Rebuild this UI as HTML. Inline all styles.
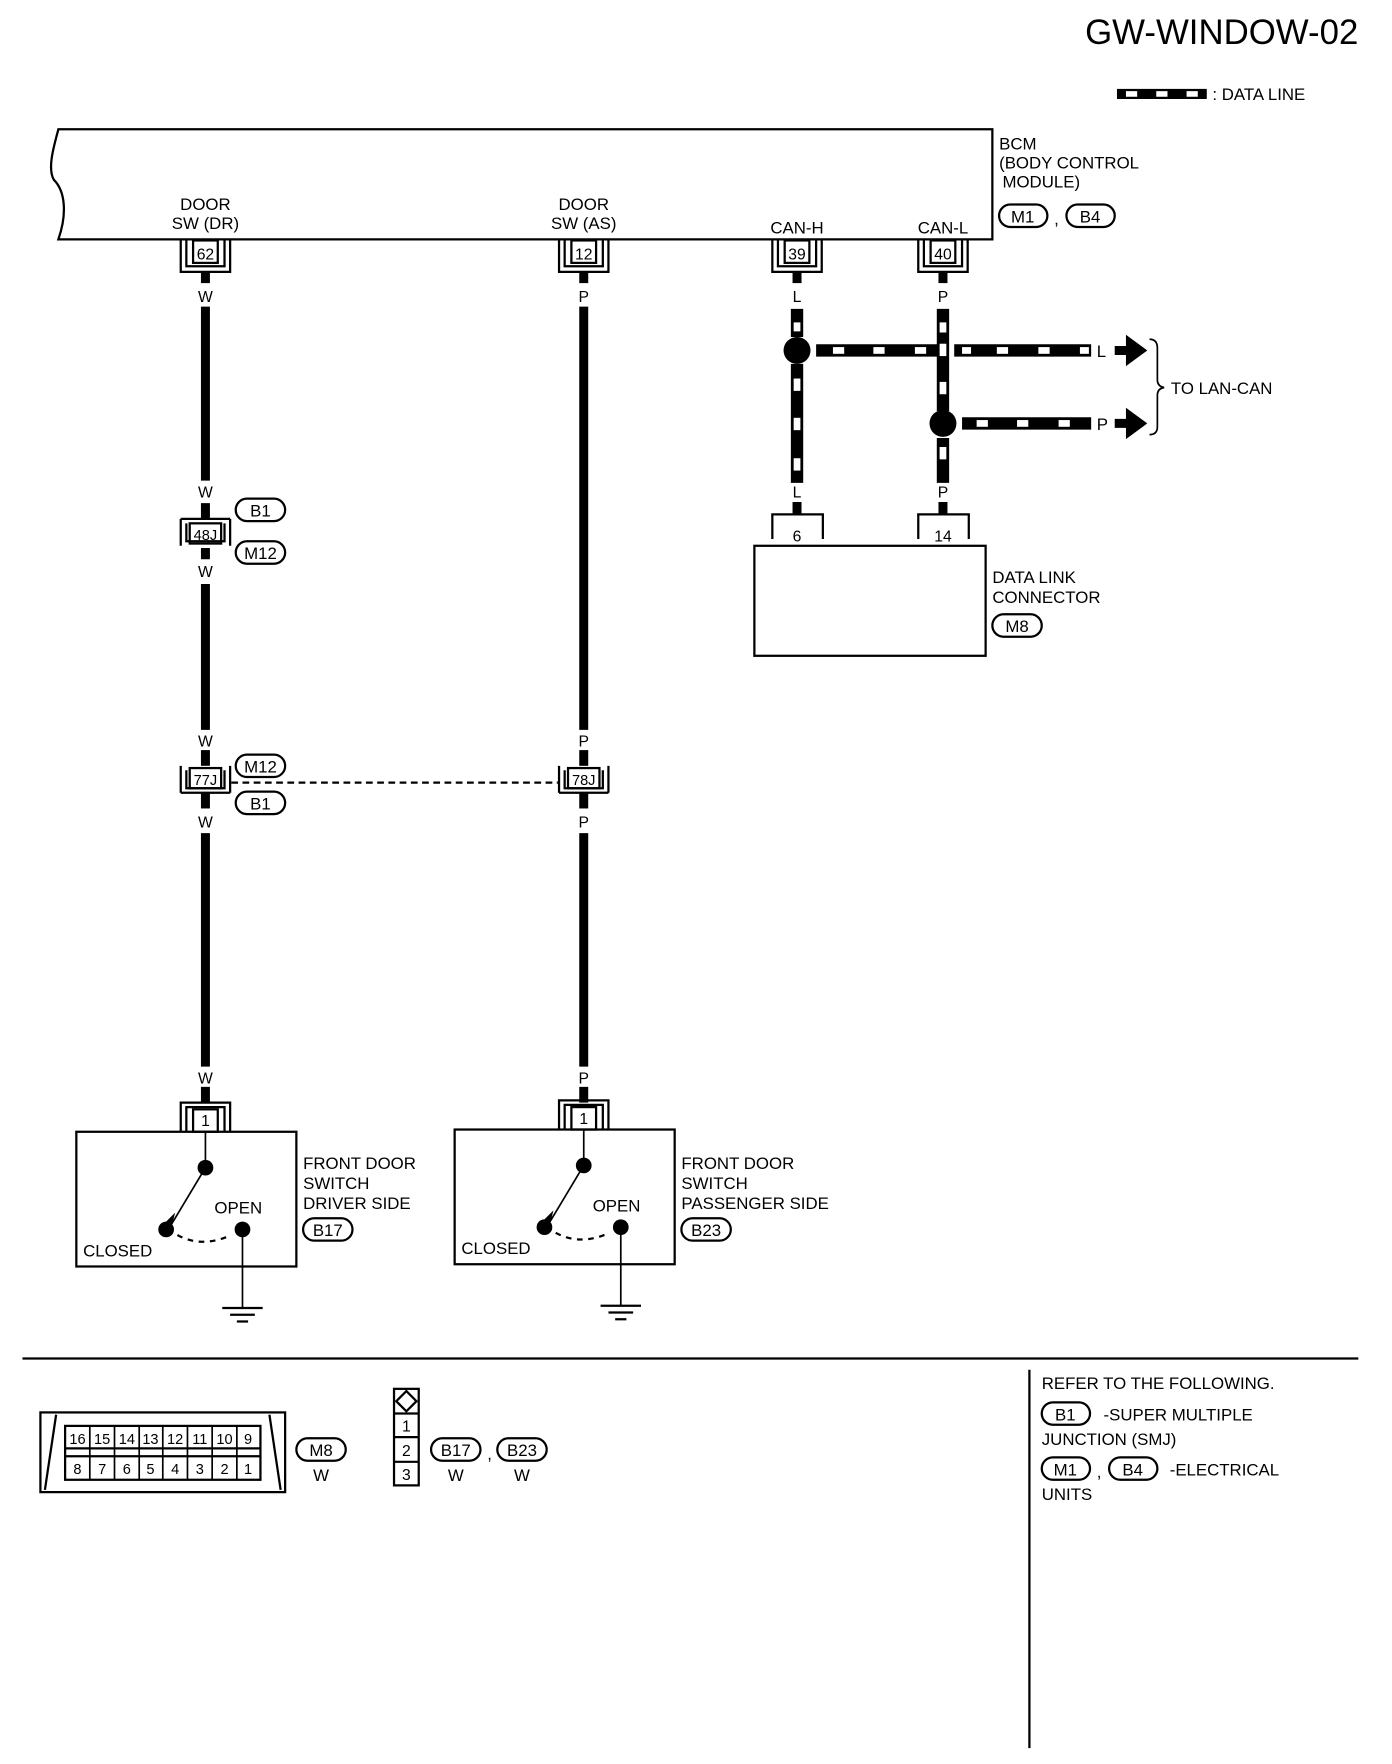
<!DOCTYPE html>
<html><head><meta charset="utf-8"><style>
html,body{margin:0;padding:0;background:#fff}
svg{display:block}
text{font-family:"Liberation Sans",sans-serif;fill:#000}
</style></head><body>
<svg width="1392" height="1764" viewBox="0 0 1240 1571" xmlns="http://www.w3.org/2000/svg">
<rect width="1240" height="1571" fill="#fff"/>
<g font-size="15">
<text x="1210" y="39" font-size="31" text-anchor="end">GW-WINDOW-02</text>
<!-- legend -->
<rect x="995" y="79" width="80" height="9" fill="#000"/>
<rect x="1003" y="81" width="10" height="5" fill="#fff"/><rect x="1030" y="81" width="10" height="5" fill="#fff"/><rect x="1057" y="81" width="10" height="5" fill="#fff"/>
<text x="1080" y="89">: DATA LINE</text>

<!-- BCM -->
<path d="M52 115 H884 V213 H52 C60 190 58 170 48 160 C42 150 48 130 52 115 Z" fill="none" stroke="#000" stroke-width="2"/>
<text x="890" y="133">BCM</text><text x="890" y="150">(BODY CONTROL</text><text x="893" y="167">MODULE)</text>
<rect x="890" y="182" width="43" height="20" rx="10" fill="none" stroke="#000" stroke-width="2"/><text x="911" y="198" text-anchor="middle">M1</text>
<text x="939" y="200">,</text>
<rect x="950" y="182" width="43" height="20" rx="10" fill="none" stroke="#000" stroke-width="2"/><text x="971" y="198" text-anchor="middle">B4</text>

<g text-anchor="middle">
<text x="183" y="187">DOOR</text><text x="183" y="204">SW (DR)</text>
<text x="520" y="187">DOOR</text><text x="520" y="204">SW (AS)</text>
<text x="710" y="208">CAN-H</text><text x="840" y="208">CAN-L</text>
</g>

<!-- top pin connectors -->
<g fill="none" stroke="#000" stroke-width="2">
<path d="M161 214 V242 H205 V214 M166 214 V237 H200 V214"/><rect x="172" y="214" width="22" height="20"/>
<path d="M498 214 V242 H542 V214 M503 214 V237 H537 V214"/><rect x="509" y="214" width="22" height="20"/>
<path d="M688 214 V242 H732 V214 M693 214 V237 H727 V214"/><rect x="699" y="214" width="22" height="20"/>
<path d="M818 214 V242 H862 V214 M823 214 V237 H857 V214"/><rect x="829" y="214" width="22" height="20"/>
</g>
<g font-size="14" text-anchor="middle">
<text x="183" y="231">62</text><text x="520" y="231">12</text><text x="710" y="231">39</text><text x="840" y="231">40</text>
</g>
<g stroke="#000" stroke-width="8">
<line x1="183" y1="242" x2="183" y2="252"/><line x1="520" y1="242" x2="520" y2="252"/>
<line x1="710" y1="242" x2="710" y2="252"/><line x1="840" y1="242" x2="840" y2="252"/>
<!-- W wire -->
<line x1="183" y1="273" x2="183" y2="428"/>
<line x1="183" y1="448" x2="183" y2="462"/>
<line x1="183" y1="488" x2="183" y2="498"/>
<line x1="183" y1="520" x2="183" y2="650"/>
<line x1="183" y1="668" x2="183" y2="682"/>
<line x1="183" y1="706" x2="183" y2="720"/>
<line x1="183" y1="742" x2="183" y2="950"/>
<line x1="183" y1="968" x2="183" y2="982"/>
<!-- P wire -->
<line x1="520" y1="273" x2="520" y2="650"/>
<line x1="520" y1="668" x2="520" y2="682"/>
<line x1="520" y1="706" x2="520" y2="720"/>
<line x1="520" y1="742" x2="520" y2="950"/>
<line x1="520" y1="968" x2="520" y2="982"/>
<!-- CAN stubs -->
<line x1="710" y1="447" x2="710" y2="458"/><line x1="840" y1="447" x2="840" y2="458"/>
</g>
<g text-anchor="middle" font-size="14">
<text x="183" y="269">W</text><text x="183" y="443">W</text><text x="183" y="514">W</text><text x="183" y="665">W</text><text x="183" y="737">W</text><text x="183" y="965">W</text>
<text x="520" y="269">P</text><text x="520" y="665">P</text><text x="520" y="737">P</text><text x="520" y="965">P</text>
<text x="710" y="269">L</text><text x="710" y="443">L</text><text x="840" y="269">P</text><text x="840" y="443">P</text>
</g>

<!-- data lines -->
<g stroke="#000" stroke-width="11">
<line x1="710" y1="275" x2="710" y2="300"/><line x1="710" y1="324" x2="710" y2="430"/>
<line x1="840" y1="275" x2="840" y2="366"/><line x1="840" y1="390" x2="840" y2="430"/>
<line x1="727" y1="312" x2="835" y2="312"/><line x1="850" y1="312" x2="972" y2="312"/>
<line x1="857" y1="377" x2="972" y2="377"/>
</g>
<g fill="#fff">
<rect x="707" y="287" width="6" height="8"/><rect x="707" y="337" width="6" height="11"/><rect x="707" y="372" width="6" height="11"/><rect x="707" y="408" width="6" height="11"/>
<rect x="837" y="287" width="6" height="9"/><rect x="837" y="306" width="6" height="11"/><rect x="837" y="340" width="6" height="11"/><rect x="837" y="398" width="6" height="11"/>
<rect x="742" y="309" width="10" height="6"/><rect x="778" y="309" width="10" height="6"/><rect x="815" y="309" width="10" height="6"/>
<rect x="857" y="309" width="8" height="6"/><rect x="888" y="309" width="10" height="6"/><rect x="925" y="309" width="10" height="6"/><rect x="962" y="309" width="8" height="6"/>
<rect x="870" y="374" width="10" height="6"/><rect x="906" y="374" width="10" height="6"/><rect x="943" y="374" width="10" height="6"/>
</g>
<circle cx="710" cy="312" r="12" fill="#000"/><circle cx="840" cy="377" r="12" fill="#000"/>
<text x="977" y="318">L</text><text x="977" y="383">P</text>
<path d="M993 308 H1003 V298 L1022 312 L1003 326 V316 H993 Z" fill="#000"/>
<path d="M993 373 H1003 V363 L1022 377 L1003 391 V381 H993 Z" fill="#000"/>
<path d="M1024 302 Q1031 302 1031 310 V338 Q1031 344 1037 345 Q1031 346 1031 352 V380 Q1031 387 1024 387" fill="none" stroke="#000" stroke-width="1.5"/>
<text x="1043" y="351">TO LAN-CAN</text>

<!-- DLC -->
<g fill="none" stroke="#000" stroke-width="2">
<path d="M688 480 V458 H733 V480"/><path d="M818 480 V458 H863 V480"/>
<rect x="672" y="486" width="206" height="98"/>
</g>
<text x="710" y="482" text-anchor="middle" font-size="14">6</text><text x="840" y="482" text-anchor="middle" font-size="14">14</text>
<text x="884" y="519">DATA LINK</text><text x="884" y="537">CONNECTOR</text>
<rect x="884" y="547" width="44" height="20" rx="10" fill="none" stroke="#000" stroke-width="2"/><text x="906" y="563" text-anchor="middle">M8</text>

<!-- inline connectors -->
<g fill="none" stroke="#000" stroke-width="2">
<path d="M161 462 V486 M166 466 V482 H200 V466 M205 462 V486 M161 462 H205"/><rect x="169" y="466" width="28" height="18"/>
<path d="M161 682 V706 M166 686 V702 H200 V686 M205 682 V706 M161 706 H205"/><rect x="169" y="684" width="28" height="18"/>
<path d="M498 682 V706 M503 686 V702 H537 V686 M542 682 V706 M498 706 H542"/><rect x="506" y="684" width="28" height="18"/>
<rect x="210" y="444" width="44" height="20" rx="10"/><rect x="210" y="482" width="44" height="20" rx="10"/>
<rect x="210" y="672" width="44" height="20" rx="10"/><rect x="210" y="705" width="44" height="20" rx="10"/>
</g>
<g font-size="13" text-anchor="middle">
<text x="183" y="481">48J</text><text x="183" y="699">77J</text><text x="520" y="699">78J</text>
</g>
<g font-size="15" text-anchor="middle">
<text x="232" y="460">B1</text><text x="232" y="498">M12</text><text x="232" y="688">M12</text><text x="232" y="721">B1</text>
</g>
<line x1="206" y1="697" x2="497" y2="697" stroke="#000" stroke-width="2" stroke-dasharray="6,4"/>

<!-- switches -->
<g id="sw">
<g fill="none" stroke="#000" stroke-width="2">
<path d="M161 1008 V982 H205 V1008 M166 1008 V986 H200 V1008"/><rect x="172" y="988" width="22" height="20"/>
<rect x="68" y="1008" width="196" height="120"/>
<line x1="183" y1="1008" x2="183" y2="1040" stroke-width="1.5"/>
<line x1="183" y1="1040" x2="153" y2="1090" stroke-width="1.5"/>
<path d="M158 1100 Q180 1112 206 1100" stroke-dasharray="5,5"/>
<line x1="216" y1="1095" x2="216" y2="1165" stroke-width="1.5"/>
<line x1="198" y1="1165" x2="234" y2="1165"/><line x1="205" y1="1171" x2="227" y2="1171"/><line x1="211" y1="1177" x2="221" y2="1177"/>
</g>
<text x="183" y="1003" text-anchor="middle" font-size="14">1</text>
<circle cx="183" cy="1040" r="7" fill="#000"/><circle cx="148" cy="1095" r="7" fill="#000"/><circle cx="216" cy="1095" r="7" fill="#000"/>
<path d="M148 1088 L156 1080 L153 1092 Z" fill="#000"/>
<text x="191" y="1081">OPEN</text><text x="74" y="1119">CLOSED</text>
</g>
<use href="#sw" transform="translate(337,-2)"/>
<text x="270" y="1041">FRONT DOOR</text><text x="270" y="1059">SWITCH</text><text x="270" y="1077">DRIVER SIDE</text>
<rect x="270" y="1085" width="44" height="20" rx="10" fill="none" stroke="#000" stroke-width="2"/><text x="292" y="1101" text-anchor="middle">B17</text>
<text x="607" y="1041">FRONT DOOR</text><text x="607" y="1059">SWITCH</text><text x="607" y="1077">PASSENGER SIDE</text>
<rect x="607" y="1085" width="44" height="20" rx="10" fill="none" stroke="#000" stroke-width="2"/><text x="629" y="1101" text-anchor="middle">B23</text>

<!-- separators -->
<line x1="20" y1="1210" x2="1210" y2="1210" stroke="#000" stroke-width="2"/>
<line x1="917" y1="1220" x2="917" y2="1557" stroke="#000" stroke-width="2"/>

<!-- bottom DLC face -->
<g fill="none" stroke="#000" stroke-width="2">
<rect x="36" y="1258" width="218" height="71"/>
<line x1="50" y1="1260" x2="40" y2="1327"/><line x1="240" y1="1260" x2="250" y2="1327"/>
<rect x="58" y="1270" width="174" height="48"/>
<line x1="58" y1="1290" x2="232" y2="1290"/><line x1="58" y1="1297" x2="232" y2="1297"/>
</g>
<g stroke="#000" stroke-width="1.5">
<line x1="80" y1="1270" x2="80" y2="1318"/><line x1="102" y1="1270" x2="102" y2="1318"/><line x1="124" y1="1270" x2="124" y2="1318"/><line x1="145" y1="1270" x2="145" y2="1318"/><line x1="167" y1="1270" x2="167" y2="1318"/><line x1="189" y1="1270" x2="189" y2="1318"/><line x1="211" y1="1270" x2="211" y2="1318"/>
</g>
<g font-size="13" text-anchor="middle">
<text x="69" y="1286">16</text><text x="91" y="1286">15</text><text x="113" y="1286">14</text><text x="134" y="1286">13</text><text x="156" y="1286">12</text><text x="178" y="1286">11</text><text x="200" y="1286">10</text><text x="221" y="1286">9</text>
<text x="69" y="1313">8</text><text x="91" y="1313">7</text><text x="113" y="1313">6</text><text x="134" y="1313">5</text><text x="156" y="1313">4</text><text x="178" y="1313">3</text><text x="200" y="1313">2</text><text x="221" y="1313">1</text>
</g>
<rect x="264" y="1281" width="44" height="20" rx="10" fill="none" stroke="#000" stroke-width="2"/><text x="286" y="1297" text-anchor="middle">M8</text>
<text x="286" y="1319" text-anchor="middle">W</text>

<g fill="none" stroke="#000" stroke-width="2">
<rect x="351" y="1237" width="22" height="86"/>
<line x1="351" y1="1259" x2="373" y2="1259"/><line x1="351" y1="1280" x2="373" y2="1280"/><line x1="351" y1="1302" x2="373" y2="1302"/>
<path d="M362 1239 L371 1248 L362 1257 L353 1248 Z"/>
</g>
<g text-anchor="middle" font-size="14"><text x="362" y="1275">1</text><text x="362" y="1297">2</text><text x="362" y="1318">3</text></g>
<rect x="384" y="1281" width="44" height="20" rx="10" fill="none" stroke="#000" stroke-width="2"/><text x="406" y="1297" text-anchor="middle">B17</text>
<text x="434" y="1300">,</text>
<rect x="443" y="1281" width="44" height="20" rx="10" fill="none" stroke="#000" stroke-width="2"/><text x="465" y="1297" text-anchor="middle">B23</text>
<text x="406" y="1319" text-anchor="middle">W</text><text x="465" y="1319" text-anchor="middle">W</text>

<!-- refer -->
<text x="928" y="1237">REFER TO THE FOLLOWING.</text>
<rect x="928" y="1249" width="43" height="20" rx="10" fill="none" stroke="#000" stroke-width="2"/><text x="949" y="1265" text-anchor="middle">B1</text>
<text x="983" y="1265">-SUPER MULTIPLE</text>
<text x="928" y="1287">JUNCTION (SMJ)</text>
<rect x="928" y="1298" width="43" height="20" rx="10" fill="none" stroke="#000" stroke-width="2"/><text x="949" y="1314" text-anchor="middle">M1</text>
<text x="977" y="1316">,</text>
<rect x="988" y="1298" width="43" height="20" rx="10" fill="none" stroke="#000" stroke-width="2"/><text x="1009" y="1314" text-anchor="middle">B4</text>
<text x="1042" y="1314">-ELECTRICAL</text>
<text x="928" y="1336">UNITS</text>
</g>
</svg>
</body></html>
